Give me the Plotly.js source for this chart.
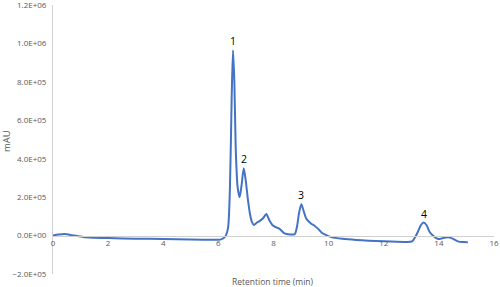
<!DOCTYPE html>
<html>
<head>
<meta charset="utf-8">
<script src="https://cdn.plot.ly/plotly-3.0.1.min.js"></script>
<style>html,body{margin:0;padding:0;background:#fff;}#chart{width:500px;height:287px;}</style>
</head>
<body>
<div id="chart"></div>
<script>
// Retention time (min)
const retentionTime = [0, 0.2, 0.42, 0.7, 1.1, 1.5, 2, 3, 4, 5, 5.8, 6.1, 6.25, 6.35, 6.42, 6.48, 6.53, 6.58, 6.63, 6.7, 6.77, 6.84, 6.92, 6.99, 7.07, 7.15, 7.22, 7.29, 7.4, 7.52, 7.62, 7.74, 7.85, 7.98, 8.1, 8.22, 8.4, 8.6, 8.77, 8.85, 8.93, 9.01, 9.1, 9.19, 9.37, 9.5, 9.61, 9.75, 9.86, 10.1, 10.5, 11, 12, 12.8, 13.03, 13.15, 13.24, 13.35, 13.45, 13.55, 13.66, 13.8, 13.97, 14.15, 14.33, 14.5, 14.69, 14.85, 15.05];
// Signal (mAU)
const signal = [0, 5000, 8000, 2000, -8000, -11000, -13000, -16000, -18000, -21000, -22000, -20000, -5000, 40000, 250000, 700000, 965000, 800000, 450000, 250000, 200000, 260000, 350000, 290000, 190000, 110000, 70000, 55000, 68000, 78000, 90000, 112000, 80000, 52000, 43000, 35000, 11000, 6000, 7000, 45000, 120000, 163000, 125000, 88000, 62000, 50000, 36000, 15000, 6000, -8000, -17000, -23000, -30000, -33000, -30000, -5000, 20000, 55000, 68000, 55000, 20000, -2000, -18000, -13000, -9000, -16000, -30000, -34000, -35000];
// Peak labels
const peakLabels = ['1', '2', '3', '4'];
const peakX = [6.53, 6.92, 9.01, 13.45];
const peakY = [965000, 350000, 163000, 68000];
// Axis ticks
const xTickVals = [0, 2, 4, 6, 8, 10, 12, 14, 16];
const xTickLabels = ['0', '2', '4', '6', '8', '10', '12', '14', '16'];
const yTickVals = [-200000, 0, 200000, 400000, 600000, 800000, 1000000, 1200000];
const yTickLabels = ['\u22122.0E+05', '0.0E+00', '2.0E+05', '4.0E+05', '6.0E+05', '8.0E+05', '1.0E+06', '1.2E+06'];

const FONT = 'Open Sans, Liberation Sans, sans-serif';
const TICKCOL = '#595959';

const trace = {
  x: retentionTime, y: signal, type: 'scatter', mode: 'lines',
  line: {color: '#4472C4', width: 2, shape: 'spline', smoothing: 0.7},
  hoverinfo: 'skip'
};

const W = 500, H = 287, L = 53.3, R = 5.6, T = 4.5, B = 13;
const pw = W - L - R, ph = H - T - B;

const annotations = peakLabels.map((t, i) => ({
  x: peakX[i], y: peakY[i], xref: 'x', yref: 'y', text: t, showarrow: false,
  xanchor: 'center', yanchor: 'middle', yshift: 9,
  font: {family: FONT, size: 10.5, color: '#000'}
}));
annotations.push({
  xref: 'paper', yref: 'paper', x: (273 - L) / pw, y: (H - B - 282) / ph,
  text: 'Retention time (min)', showarrow: false, xanchor: 'center', yanchor: 'middle',
  font: {family: FONT, size: 8.5, color: TICKCOL}
});
annotations.push({
  xref: 'paper', yref: 'paper', x: (7 - L) / pw, y: (H - B - 141) / ph,
  text: 'mAU', showarrow: false, xanchor: 'center', yanchor: 'middle', textangle: -90,
  font: {family: FONT, size: 9.5, color: TICKCOL}
});

const layout = {
  width: W, height: H,
  margin: {l: L, r: R, t: T, b: B, pad: 0},
  paper_bgcolor: '#fff', plot_bgcolor: '#fff',
  showlegend: false,
  xaxis: {
    range: [0, 16], tickvals: xTickVals, ticktext: xTickLabels,
    anchor: 'free', position: 1 / 7,
    showline: true, linecolor: '#d0d0d0', linewidth: 1,
    showgrid: false, zeroline: false, ticks: '', ticklabeloverflow: 'allow',
    tickfont: {family: FONT, size: 8, color: TICKCOL}
  },
  yaxis: {
    range: [-200000, 1200000.5], tickvals: yTickVals, ticktext: yTickLabels,
    showline: true, linecolor: '#d0d0d0', linewidth: 1,
    showgrid: false, zeroline: false, ticks: '', ticklabelstandoff: 4, ticklabeloverflow: 'allow',
    tickfont: {family: FONT, size: 8, color: TICKCOL}
  },
  annotations: annotations
};

Plotly.newPlot('chart', [trace], layout, {staticPlot: true, displayModeBar: false});
</script>
</body>
</html>
